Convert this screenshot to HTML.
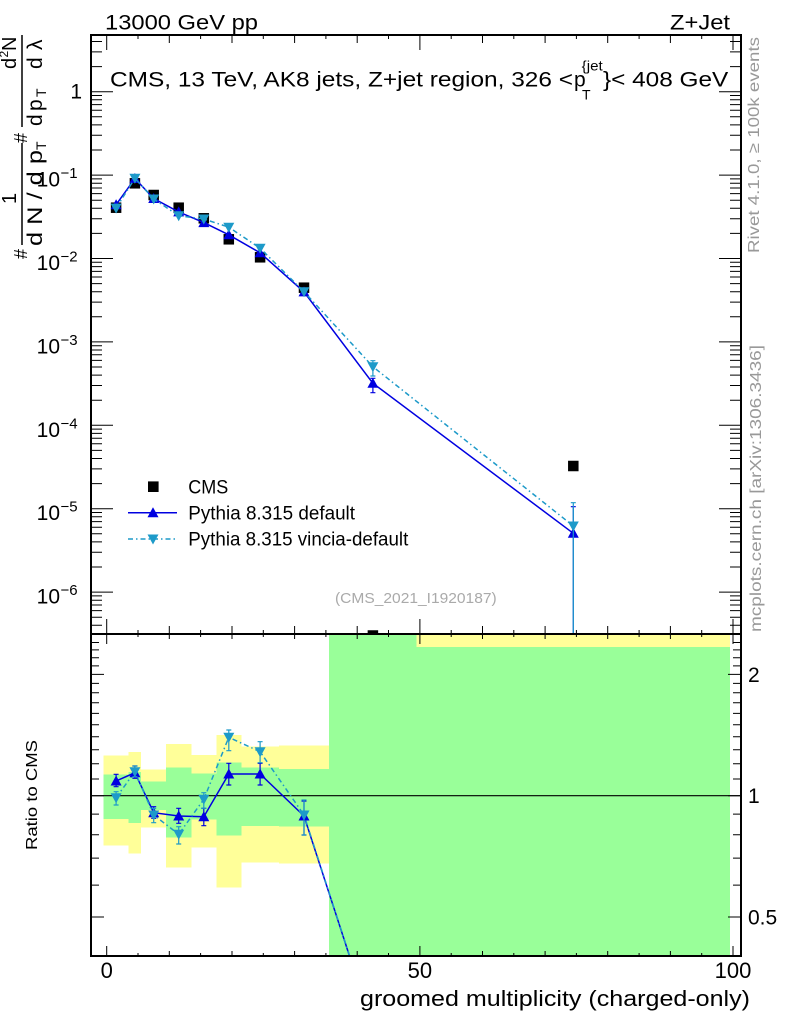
<!DOCTYPE html>
<html><head><meta charset="utf-8"><style>
html,body{margin:0;padding:0;background:#fff}
svg{display:block}
text{font-family:"Liberation Sans",Arial,sans-serif}
</style></head><body>
<svg width="786" height="1024" viewBox="0 0 786 1024" xmlns="http://www.w3.org/2000/svg">
<defs>
<clipPath id="cm"><rect x="91" y="35" width="650" height="599"/></clipPath>
<clipPath id="cr"><rect x="91" y="634" width="650" height="322"/></clipPath>
</defs>
<rect width="786" height="1024" fill="#fff"/>

<!-- top labels -->
<text x="105" y="29.5" font-size="21" textLength="153" lengthAdjust="spacingAndGlyphs">13000 GeV pp</text>
<text x="670" y="29.5" font-size="21" textLength="60" lengthAdjust="spacingAndGlyphs">Z+Jet</text>

<!-- ratio bands -->
<g clip-path="url(#cr)">
<g fill="#ffff99" shape-rendering="crispEdges">
<rect x="103.57" y="755.7" width="25.05" height="90"/>
<rect x="128.62" y="752" width="12.53" height="101.7"/>
<rect x="141.15" y="769.3" width="25.05" height="58.4"/>
<rect x="166.2" y="744" width="25.05" height="123.7"/>
<rect x="191.25" y="755" width="25.05" height="92.7"/>
<rect x="216.3" y="735" width="25.05" height="152.7"/>
<rect x="241.35" y="746.7" width="37.58" height="115.6"/>
<rect x="278.93" y="745.7" width="50.11" height="117.6"/>
<rect x="329.04" y="634" width="400.83" height="322"/>
</g>
<g fill="#99ff99" shape-rendering="crispEdges">
<rect x="103.57" y="774.7" width="25.05" height="44.3"/>
<rect x="128.62" y="772" width="12.53" height="51"/>
<rect x="141.15" y="781.7" width="25.05" height="28.3"/>
<rect x="166.2" y="767.7" width="25.05" height="69.6"/>
<rect x="191.25" y="773.7" width="25.05" height="45.6"/>
<rect x="216.3" y="762.3" width="25.05" height="73.4"/>
<rect x="241.35" y="767.7" width="37.58" height="58.3"/>
<rect x="278.93" y="769" width="50.11" height="57.7"/>
<rect x="329.04" y="634" width="87.68" height="14"/>
<rect x="329.04" y="647" width="400.83" height="309"/>
</g>
<line x1="91" y1="795.7" x2="741" y2="795.7" stroke="#000" stroke-width="1.2"/>

<!-- ratio series -->
<polyline fill="none" stroke="#0000e0" stroke-width="1.5" points="116.1,781 134.9,772.7 153.7,812.7 178.7,816 203.8,816.7 228.8,774 260.1,774 304,816 372.9,1028"/>
<polyline fill="none" stroke="#1d9ac9" stroke-width="1.5" stroke-dasharray="5 3 1.5 3" points="116.1,797.7 134.9,771.7 153.7,815 178.7,834.3 203.8,799.3 228.8,737.3 260.1,751.7 304,815 372.9,1028"/>
<path fill="none" stroke="#0000e0" stroke-width="1.2" d="M116.1 774.3V786.7M113.6 774.3h5M113.6 786.7h5 M134.9 766V778.3M132.4 766h5M132.4 778.3h5 M153.7 806.7V818.3M151.2 806.7h5M151.2 818.3h5 M178.7 808.3V823.3M176.2 808.3h5M176.2 823.3h5 M203.8 808.3V825.7M201.3 808.3h5M201.3 825.7h5 M228.8 763.3V785M226.3 763.3h5M226.3 785h5 M260.1 763.3V785M257.6 763.3h5M257.6 785h5 M304 801V835M301.5 801h5M301.5 835h5"/>
<g fill="#0000e0">
<polygon points="116.1,775.5 110.6,785.5 121.6,785.5"/>
<polygon points="134.9,767.2 129.4,777.2 140.4,777.2"/>
<polygon points="153.7,807.2 148.2,817.2 159.2,817.2"/>
<polygon points="178.7,810.5 173.2,820.5 184.2,820.5"/>
<polygon points="203.8,811.2 198.3,821.2 209.3,821.2"/>
<polygon points="228.8,768.5 223.3,778.5 234.3,778.5"/>
<polygon points="260.1,768.5 254.6,778.5 265.6,778.5"/>
<polygon points="304,810.5 298.5,820.5 309.5,820.5"/>
</g>
<path fill="none" stroke="#1d9ac9" stroke-width="1.2" d="M116.1 791.7V805M113.6 791.7h5M113.6 805h5 M134.9 766V776.7M132.4 766h5M132.4 776.7h5 M153.7 808.3V822.7M151.2 808.3h5M151.2 822.7h5 M178.7 826.7V844M176.2 826.7h5M176.2 844h5 M203.8 792.7V808.3M201.3 792.7h5M201.3 808.3h5 M228.8 730V750.7M226.3 730h5M226.3 750.7h5 M260.1 741.7V762.7M257.6 741.7h5M257.6 762.7h5 M304 800V835M301.5 800h5M301.5 835h5"/>
<g fill="#1d9ac9">
<polygon points="116.1,803.2 110.6,793.2 121.6,793.2"/>
<polygon points="134.9,777.2 129.4,767.2 140.4,767.2"/>
<polygon points="153.7,820.5 148.2,810.5 159.2,810.5"/>
<polygon points="178.7,839.8 173.2,829.8 184.2,829.8"/>
<polygon points="203.8,804.8 198.3,794.8 209.3,794.8"/>
<polygon points="228.8,742.8 223.3,732.8 234.3,732.8"/>
<polygon points="260.1,757.2 254.6,747.2 265.6,747.2"/>
<polygon points="304,820.5 298.5,810.5 309.5,810.5"/>
</g>
</g>

<!-- main panel data -->
<g clip-path="url(#cm)">
<g fill="#000">
<rect x="110.85" y="202.45" width="10.5" height="10.5"/>
<rect x="129.65" y="178.05" width="10.5" height="10.5"/>
<rect x="148.45" y="189.75" width="10.5" height="10.5"/>
<rect x="173.45" y="202.45" width="10.5" height="10.5"/>
<rect x="198.55" y="213.05" width="10.5" height="10.5"/>
<rect x="223.55" y="234.05" width="10.5" height="10.5"/>
<rect x="254.85" y="252.05" width="10.5" height="10.5"/>
<rect x="298.75" y="282.45" width="10.5" height="10.5"/>
<rect x="367.65" y="630.25" width="10.5" height="10.5"/>
<rect x="568.05" y="460.75" width="10.5" height="10.5"/>
</g>
<polyline fill="none" stroke="#0000e0" stroke-width="1.5" points="116.1,204.7 134.9,178.5 153.7,198.5 178.7,211.9 203.8,222.6 228.8,234.8 260.1,252.8 304,291.9 372.9,383.3 573.3,533.3"/>
<path fill="none" stroke="#0000e0" stroke-width="1.2" d="M372.9 378.3V392.7M370.4 378.3h5M370.4 392.7h5 M573.3 506.7V640M570.8 506.7h5"/>
<g fill="#0000e0">
<polygon points="116.1,199.2 110.6,209.2 121.6,209.2"/>
<polygon points="134.9,173 129.4,183 140.4,183"/>
<polygon points="153.7,193 148.2,203 159.2,203"/>
<polygon points="178.7,206.4 173.2,216.4 184.2,216.4"/>
<polygon points="203.8,217.1 198.3,227.1 209.3,227.1"/>
<polygon points="228.8,229.3 223.3,239.3 234.3,239.3"/>
<polygon points="260.1,247.3 254.6,257.3 265.6,257.3"/>
<polygon points="304,286.4 298.5,296.4 309.5,296.4"/>
<polygon points="372.9,377.8 367.4,387.8 378.4,387.8"/>
<polygon points="573.3,527.8 567.8,537.8 578.8,537.8"/>
</g>
<polyline fill="none" stroke="#1d9ac9" stroke-width="1.5" stroke-dasharray="5 3 1.5 3" points="116.1,208.1 134.9,178.3 153.7,199 178.7,215.7 203.8,219 228.8,227.2 260.1,248.2 304,291.7 372.9,366.7 573.3,526"/>
<path fill="none" stroke="#1d9ac9" stroke-width="1.2" d="M372.9 360.7V376M370.4 360.7h5M370.4 376h5 M573.3 502.7V640M570.8 502.7h5"/>
<g fill="#1d9ac9">
<polygon points="116.1,213.6 110.6,203.6 121.6,203.6"/>
<polygon points="134.9,183.8 129.4,173.8 140.4,173.8"/>
<polygon points="153.7,204.5 148.2,194.5 159.2,194.5"/>
<polygon points="178.7,221.2 173.2,211.2 184.2,211.2"/>
<polygon points="203.8,224.5 198.3,214.5 209.3,214.5"/>
<polygon points="228.8,232.7 223.3,222.7 234.3,222.7"/>
<polygon points="260.1,253.7 254.6,243.7 265.6,243.7"/>
<polygon points="304,297.2 298.5,287.2 309.5,287.2"/>
<polygon points="372.9,372.2 367.4,362.2 378.4,362.2"/>
<polygon points="573.3,531.5 567.8,521.5 578.8,521.5"/>
</g>
</g>

<!-- title in plot -->
<text x="110" y="86.7" font-size="21" textLength="463" lengthAdjust="spacingAndGlyphs">CMS, 13 TeV, AK8 jets, Z+jet region, 326 &lt;</text>
<text x="574" y="86.7" font-size="21">p</text>
<text x="581.7" y="70.5" font-size="14" textLength="21" lengthAdjust="spacingAndGlyphs">{jet</text>
<text x="582" y="99.5" font-size="14">T</text>
<text x="603" y="86.7" font-size="21" textLength="125.3" lengthAdjust="spacingAndGlyphs">}&lt; 408 GeV</text>

<!-- legend -->
<rect x="148" y="481.4" width="10.6" height="10.6" fill="#000"/>
<text x="188.3" y="493.4" font-size="19" textLength="40" lengthAdjust="spacingAndGlyphs">CMS</text>
<line x1="128" y1="512.7" x2="177" y2="512.7" stroke="#0000e0" stroke-width="1.5"/>
<polygon points="153,507.2 147.5,517.2 158.5,517.2" fill="#0000e0"/>
<text x="188.3" y="519.4" font-size="19" textLength="166.7" lengthAdjust="spacingAndGlyphs">Pythia 8.315 default</text>
<line x1="128" y1="539" x2="177" y2="539" stroke="#1d9ac9" stroke-width="1.5" stroke-dasharray="5 3 1.5 3"/>
<polygon points="153,544.5 147.5,534.5 158.5,534.5" fill="#1d9ac9"/>
<text x="188.3" y="545.7" font-size="19" textLength="220" lengthAdjust="spacingAndGlyphs">Pythia 8.315 vincia-default</text>

<text x="335" y="603" font-size="15" fill="#aaaaaa" textLength="161.7" lengthAdjust="spacingAndGlyphs">(CMS_2021_I1920187)</text>

<!-- frames -->
<rect x="91" y="35" width="650" height="599" fill="none" stroke="#000" stroke-width="2"/>
<rect x="91" y="634" width="650" height="322" fill="none" stroke="#000" stroke-width="2"/>

<!-- main y ticks -->
<path fill="none" stroke="#000" stroke-width="1" d="
M91 91.7h22M91 175.1h22M91 258.5h22M91 341.9h22M91 425.3h22M91 508.7h22M91 592.1h22
M91 66.6h11M91 51.9h11M91 41.5h11
M91 150h11M91 135.3h11M91 124.9h11M91 116.8h11M91 110.2h11M91 104.6h11M91 99.8h11M91 95.5h11
M91 233.4h11M91 218.7h11M91 208.3h11M91 200.2h11M91 193.6h11M91 188h11M91 183.2h11M91 178.9h11
M91 316.8h11M91 302.1h11M91 291.7h11M91 283.6h11M91 277h11M91 271.4h11M91 266.6h11M91 262.3h11
M91 400.2h11M91 385.5h11M91 375.1h11M91 367h11M91 360.4h11M91 354.8h11M91 350h11M91 345.7h11
M91 483.6h11M91 468.9h11M91 458.5h11M91 450.4h11M91 443.8h11M91 438.2h11M91 433.4h11M91 429.1h11
M91 567h11M91 552.3h11M91 541.9h11M91 533.8h11M91 527.2h11M91 521.6h11M91 516.8h11M91 512.5h11
M91 625.3h11M91 617.2h11M91 610.6h11M91 605h11M91 600.2h11M91 595.9h11
M741 91.7h-22M741 175.1h-22M741 258.5h-22M741 341.9h-22M741 425.3h-22M741 508.7h-22M741 592.1h-22
M741 66.6h-11M741 51.9h-11M741 41.5h-11
M741 150h-11M741 135.3h-11M741 124.9h-11M741 116.8h-11M741 110.2h-11M741 104.6h-11M741 99.8h-11M741 95.5h-11
M741 233.4h-11M741 218.7h-11M741 208.3h-11M741 200.2h-11M741 193.6h-11M741 188h-11M741 183.2h-11M741 178.9h-11
M741 316.8h-11M741 302.1h-11M741 291.7h-11M741 283.6h-11M741 277h-11M741 271.4h-11M741 266.6h-11M741 262.3h-11
M741 400.2h-11M741 385.5h-11M741 375.1h-11M741 367h-11M741 360.4h-11M741 354.8h-11M741 350h-11M741 345.7h-11
M741 483.6h-11M741 468.9h-11M741 458.5h-11M741 450.4h-11M741 443.8h-11M741 438.2h-11M741 433.4h-11M741 429.1h-11
M741 567h-11M741 552.3h-11M741 541.9h-11M741 533.8h-11M741 527.2h-11M741 521.6h-11M741 516.8h-11M741 512.5h-11
M741 625.3h-11M741 617.2h-11M741 610.6h-11M741 605h-11M741 600.2h-11M741 595.9h-11
"/>

<!-- main x ticks (top and bottom) -->
<path fill="none" stroke="#000" stroke-width="1" d="
M106.7 35v15M138 35v4M169.3 35v8M200.6 35v4M232 35v8M263.3 35v4M294.6 35v8M325.9 35v4M357.2 35v8M388.5 35v4M419.9 35v15M451.2 35v4M482.5 35v8M513.8 35v4M545.1 35v8M576.4 35v4M607.7 35v8M639.1 35v4M670.4 35v8M701.7 35v4M733 35v15
M106.7 634v-15M138 634v-4M169.3 634v-8M200.6 634v-4M232 634v-8M263.3 634v-4M294.6 634v-8M325.9 634v-4M357.2 634v-8M388.5 634v-4M419.9 634v-15M451.2 634v-4M482.5 634v-8M513.8 634v-4M545.1 634v-8M576.4 634v-4M607.7 634v-8M639.1 634v-4M670.4 634v-8M701.7 634v-4M733 634v-15
M106.7 634v10M138 634v3M169.3 634v5M200.6 634v3M232 634v5M263.3 634v3M294.6 634v5M325.9 634v3M357.2 634v5M388.5 634v3M419.9 634v10M451.2 634v3M482.5 634v5M513.8 634v3M545.1 634v5M576.4 634v3M607.7 634v5M639.1 634v3M670.4 634v5M701.7 634v3M733 634v10
M106.7 956v-10M138 956v-3M169.3 956v-5M200.6 956v-3M232 956v-5M263.3 956v-3M294.6 956v-5M325.9 956v-3M357.2 956v-5M388.5 956v-3M419.9 956v-10M451.2 956v-3M482.5 956v-5M513.8 956v-3M545.1 956v-5M576.4 956v-3M607.7 956v-5M639.1 956v-3M670.4 956v-5M701.7 956v-3M733 956v-10
"/>

<!-- ratio y ticks -->
<path fill="none" stroke="#000" stroke-width="1" d="
M91 917h13M91 885.1h8M91 858.1h8M91 834.8h8M91 814.1h8M91 795.7h13M91 779h8M91 763.8h8M91 749.8h8M91 736.8h8M91 724.7h8M91 713.4h8M91 702.8h8M91 692.8h8M91 683.4h8M91 674.4h13M91 665.9h8M91 657.7h8M91 649.9h8M91 642.5h8
M741 917h-13M741 885.1h-8M741 858.1h-8M741 834.8h-8M741 814.1h-8M741 795.7h-13M741 779h-8M741 763.8h-8M741 749.8h-8M741 736.8h-8M741 724.7h-8M741 713.4h-8M741 702.8h-8M741 692.8h-8M741 683.4h-8M741 674.4h-13M741 665.9h-8M741 657.7h-8M741 649.9h-8M741 642.5h-8
"/>

<!-- main y labels -->
<g font-size="21">
<text x="82" y="98.5" text-anchor="end">1</text>
<text x="60" y="186.6" text-anchor="end">10</text>
<text x="60" y="270" text-anchor="end">10</text>
<text x="60" y="353.4" text-anchor="end">10</text>
<text x="60" y="436.8" text-anchor="end">10</text>
<text x="60" y="520.2" text-anchor="end">10</text>
<text x="60" y="603.6" text-anchor="end">10</text>
</g>
<g font-size="15">
<text x="60.5" y="178.1">−1</text>
<text x="60.5" y="261.5">−2</text>
<text x="60.5" y="344.9">−3</text>
<text x="60.5" y="428.3">−4</text>
<text x="60.5" y="511.7">−5</text>
<text x="60.5" y="595.1">−6</text>
</g>

<!-- ratio labels -->
<g font-size="21">
<text x="748" y="681.8">2</text>
<text x="748" y="803.2">1</text>
<text x="748" y="924.5">0.5</text>
</g>

<!-- x labels -->
<g font-size="22" text-anchor="middle">
<text x="106.7" y="978">0</text>
<text x="419.9" y="978">50</text>
<text x="733" y="978">100</text>
</g>
<text x="360" y="1006" font-size="22" textLength="390" lengthAdjust="spacingAndGlyphs">groomed multiplicity (charged-only)</text>

<!-- rotated texts -->
<g transform="rotate(-90)">
<text x="-850" y="37" font-size="16" textLength="110" lengthAdjust="spacingAndGlyphs">Ratio to CMS</text>
<text x="-253" y="759" font-size="16" fill="#999999" textLength="216" lengthAdjust="spacingAndGlyphs">Rivet 4.1.0, ≥ 100k events</text>
<text x="-632" y="761" font-size="16" fill="#999999" textLength="287" lengthAdjust="spacingAndGlyphs">mcplots.cern.ch [arXiv:1306.3436]</text>

<!-- y axis title -->
<text x="-259" y="27" font-size="18">#</text>
<text x="-204" y="16" font-size="20">1</text>
<text x="-246" y="42" font-size="21" textLength="96" lengthAdjust="spacingAndGlyphs">d N / d p</text>
<text x="-150" y="46" font-size="14">T</text>
<text x="-143" y="27" font-size="18">#</text>
<text x="-69" y="16" font-size="20">d</text>
<text x="-57.5" y="8" font-size="12">2</text>
<text x="-51" y="16" font-size="20">N</text>
<text x="-126" y="42" font-size="21">d</text>
<text x="-111" y="42" font-size="21">p</text>
<text x="-97" y="46" font-size="14">T</text>
<text x="-69" y="42" font-size="21">d</text>
<text x="-50" y="42" font-size="21">λ</text>
</g>
<line x1="22" y1="143" x2="22" y2="245" stroke="#000" stroke-width="1.5"/>
<line x1="22" y1="35" x2="22" y2="127" stroke="#000" stroke-width="1.5"/>
</svg>
</body></html>
